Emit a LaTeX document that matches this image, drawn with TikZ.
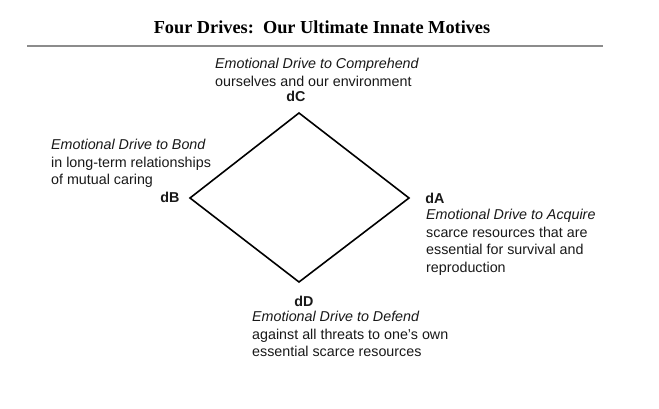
\documentclass[tikz,border=0pt]{standalone}
\usepackage{fontspec}
\setmainfont{Liberation Serif}
\setsansfont{Liberation Sans}
\begin{document}
\begin{tikzpicture}[x=1pt,y=-1pt,
  lbl/.style={font=\sffamily\fontsize{14.3}{17.6}\selectfont, inner sep=0pt, align=left, anchor=north west, text=black!90},
  tag/.style={font=\sffamily\bfseries\fontsize{14.3}{17}\selectfont, inner sep=0pt, anchor=base, text=black!90},
  edge/.style={draw=black, line width=1.6pt, line join=miter}
]
\useasboundingbox (0,0) rectangle (659,409);
\fill[white] (0,0) rectangle (659,409);
\node[font=\bfseries\fontsize{18.3}{22}\selectfont, inner sep=0pt, anchor=base] (title) at (322,34) {Four Drives:\ \ Our Ultimate Innate Motives};
\coordinate (rl) at (27,46);
\coordinate (rr) at (603,46);
\draw[black!45, line width=1.6pt] (rl) -- (rr);

\coordinate (C) at (299,113);
\coordinate (A) at (409,198);
\coordinate (D) at (299,282);
\coordinate (B) at (190,198);
\draw[edge] (C) -- (A) -- (D) -- (B) -- cycle;

\node[tag] (dC) at (296,102) {dC};
\node[tag] (dB) at (170,202) {dB};
\node[tag] (dA) at (435,204) {dA};
\node[tag] (dD) at (304,306) {dD};

\node[lbl] (tC) at (215,58) {\textit{Emotional Drive to Comprehend}\\ourselves and our environment};
\node[lbl] (tB) at (51,139) {\textit{Emotional Drive to Bond}\\in long-term relationships\\of mutual caring};
\node[lbl] (tA) at (426,209) {\textit{Emotional Drive to Acquire}\\scarce resources that are\\essential for survival and\\reproduction};
\node[lbl] (tD) at (252,311) {\textit{Emotional Drive to Defend}\\against all threats to one's own\\essential scarce resources};
\end{tikzpicture}
\end{document}
